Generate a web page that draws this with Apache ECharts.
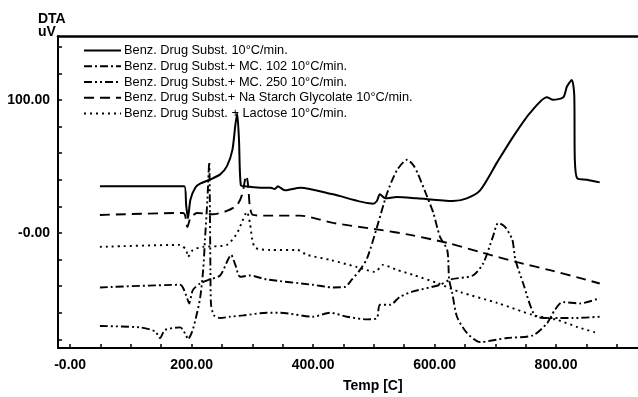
<!DOCTYPE html>
<html>
<head>
<meta charset="utf-8">
<script src="https://cdn.jsdelivr.net/npm/echarts@6/dist/echarts.min.js"></script>
<style>
  html, body { margin: 0; padding: 0; background: #fff; }
  #chart { width: 638px; height: 397px; }
</style>
</head>
<body>
<div id="chart"></div>
<script>
// ---- Data (temperature [°C], DTA signal [uV]) ----
const seriesNames = [
  'Benz. Drug Subst. 10°C/min.',
  'Benz. Drug Subst.+ MC. 102 10°C/min.',
  'Benz. Drug Subst.+ MC. 250 10°C/min.',
  'Benz. Drug Subst.+ Na Starch Glycolate 10°C/min.',
  'Benz. Drug Subst. + Lactose 10°C/min.'
];

const benzT = [49,188,191,194,198,206,214,230,247,258,267,272,275,278,281,288,313,330,337,342,346,354,379,433,499,505,510,519,538,571,630,653,675,703,729,757,785,795,812,818,826,830,831,835,851,872];
const benzV = [35,35,21,11,25,34,37,40,44,50,62,81,90,70,36,35,34,34,33,35,34,32,34,29,22,24,29,26,27,26,24,26,32,53,72,90,102,100,102,110,115,104,55,41,40,38];

const mc102T = [49,181,191,196,202,214,230,247,260,265,272,280,296,324,400,433,453,464,477,489,505,522,538,555,565,573,588,598,609,621,624,629,637,653,675,719,762,785,798,811,840,872];
const mc102V = [-41,-39,-47,-53,-43,-38,-35,-32,-20,-16.5,-24,-33,-32,-35,-39,-41,-40.5,-35,-28,-19,4,30,47,55,51,44,27,15,-3,-13,-35,-45,-63,-75,-82,-79,-77,-68,-58,-52,-53,-49];

const mc250T = [49,115,140,148,156,181,191,194,201,207,214,219,222,226,229,230,231,232,237,247,263,285,324,346,400,428,456,489,505,510,527,543,565,609,626,663,680,696,705,716,728,733,746,765,785,807,828,872];
const mc250V = [-70,-71,-74,-79,-73,-71,-77,-80,-74,-64,-49,-28,-5,25,53,25,-28,-54,-62,-64,-63,-62,-60,-60,-63,-60,-63,-65,-64,-54,-54,-48,-44,-39,-35,-32,-23,-3,7.5,4.5,-5,-20,-38,-62,-64,-64,-64,-63];

const naT = [49,186,193,198,209,235,258,275,283,290,293,296,301,324,379,412,433,510,560,621,680,736,790,840,872];
const naV = [13.5,15,4.5,11,15,14,16.5,21,28.6,43,36,19.5,13.5,13,13,10,7.5,2.3,-1.5,-7.5,-15,-22,-28,-34,-38];

const lacT = [49,181,191,194,202,219,258,275,283,291,296,300,305,329,374,390,428,472,502,515,538,565,604,642,703,762,802,835,868];
const lacV = [-10.5,-9,-12.8,-18,-12.8,-10.5,-9,0,8.3,15.8,7.5,-5.3,-11.3,-12.8,-12.8,-16.5,-20.3,-25.6,-29.3,-24,-27.8,-31.6,-37.6,-44.4,-52.6,-61.7,-65.4,-70.7,-75.2];

const xTicks = [0,50,100,150,200,250,300,350,400,450,500,550,600,650,700,750,800,850,900];
const xLabels = [0,200,400,600,800];
const yTicks = [-80,-60,-40,-20,0,20,40,60,80,100,120,140];
const yLabels = [0,100];

// ---- Build ----
const zip = (t, v) => t.map((x, i) => [x, v[i]]);
const seriesData = [zip(benzT, benzV), zip(mc102T, mc102V), zip(mc250T, mc250V), zip(naT, naV), zip(lacT, lacV)];
const dashes = ['solid', [8, 3, 2, 3], [8, 3, 2, 3, 2, 3], [10, 6], [2, 4]];
const widths = [2, 1.9, 1.9, 1.9, 1.9];

const fmt = v => (v === 0 ? '-0.00' : v.toFixed(2));
const labelFont = { color: '#000', fontFamily: 'Liberation Sans', fontWeight: 'bold', fontSize: 14 };

const chart = echarts.init(document.getElementById('chart'), null, { renderer: 'canvas' });
chart.setOption({
  animation: false,
  backgroundColor: '#fff',
  grid: { left: 58, right: 0, top: 36, bottom: 49, containLabel: false },
  legend: {
    orient: 'vertical',
    left: 78,
    top: 39,
    itemWidth: 37,
    itemHeight: 12,
    itemGap: 2.75,
    itemStyle: { opacity: 0, borderWidth: 0 },
    textStyle: { color: '#000', fontFamily: 'Liberation Sans', fontSize: 12.8, lineHeight: 12, padding: [0, 0, 0, -2] },
    data: seriesNames
  },
  xAxis: [{
    type: 'value', position: 'bottom', min: -20, max: 935,
    splitLine: { show: false },
    axisLine: { show: true, onZero: false, lineStyle: { color: '#000', width: 2 } },
    axisTick: { show: true, inside: true, length: 4, customValues: xTicks, lineStyle: { color: '#000', width: 1.5 } },
    axisLabel: Object.assign({ margin: 10, customValues: xLabels, formatter: fmt }, labelFont)
  }, {
    type: 'value', position: 'top', min: -20, max: 935,
    splitLine: { show: false },
    axisLine: { show: true, onZero: false, lineStyle: { color: '#000', width: 2.5 } },
    axisTick: { show: false },
    axisLabel: { show: false }
  }],
  yAxis: {
    type: 'value', min: -86.5, max: 148,
    splitLine: { show: false },
    axisLine: { show: true, onZero: false, lineStyle: { color: '#000', width: 2 } },
    axisTick: { show: true, inside: true, length: 4, customValues: yTicks, lineStyle: { color: '#000', width: 1.5 } },
    axisLabel: Object.assign({ margin: 8, customValues: yLabels, formatter: fmt }, labelFont)
  },
  graphic: [
    { type: 'text', left: 38, top: 12, style: { text: 'DTA', fill: '#000', font: 'bold 14px "Liberation Sans"' } },
    { type: 'text', left: 38, top: 25, style: { text: 'uV', fill: '#000', font: 'bold 14px "Liberation Sans"' } },
    { type: 'text', left: 343, top: 379, style: { text: 'Temp [C]', fill: '#000', font: 'bold 14px "Liberation Sans"' } }
  ],
  series: seriesNames.map((name, i) => ({
    name: name,
    type: 'line',
    xAxisIndex: 0,
    data: seriesData[i],
    symbol: 'none',
    smooth: 0.25,
    lineStyle: { color: '#000', width: widths[i], type: dashes[i] },
    itemStyle: { color: '#000' }
  }))
});
</script>
</body>
</html>
